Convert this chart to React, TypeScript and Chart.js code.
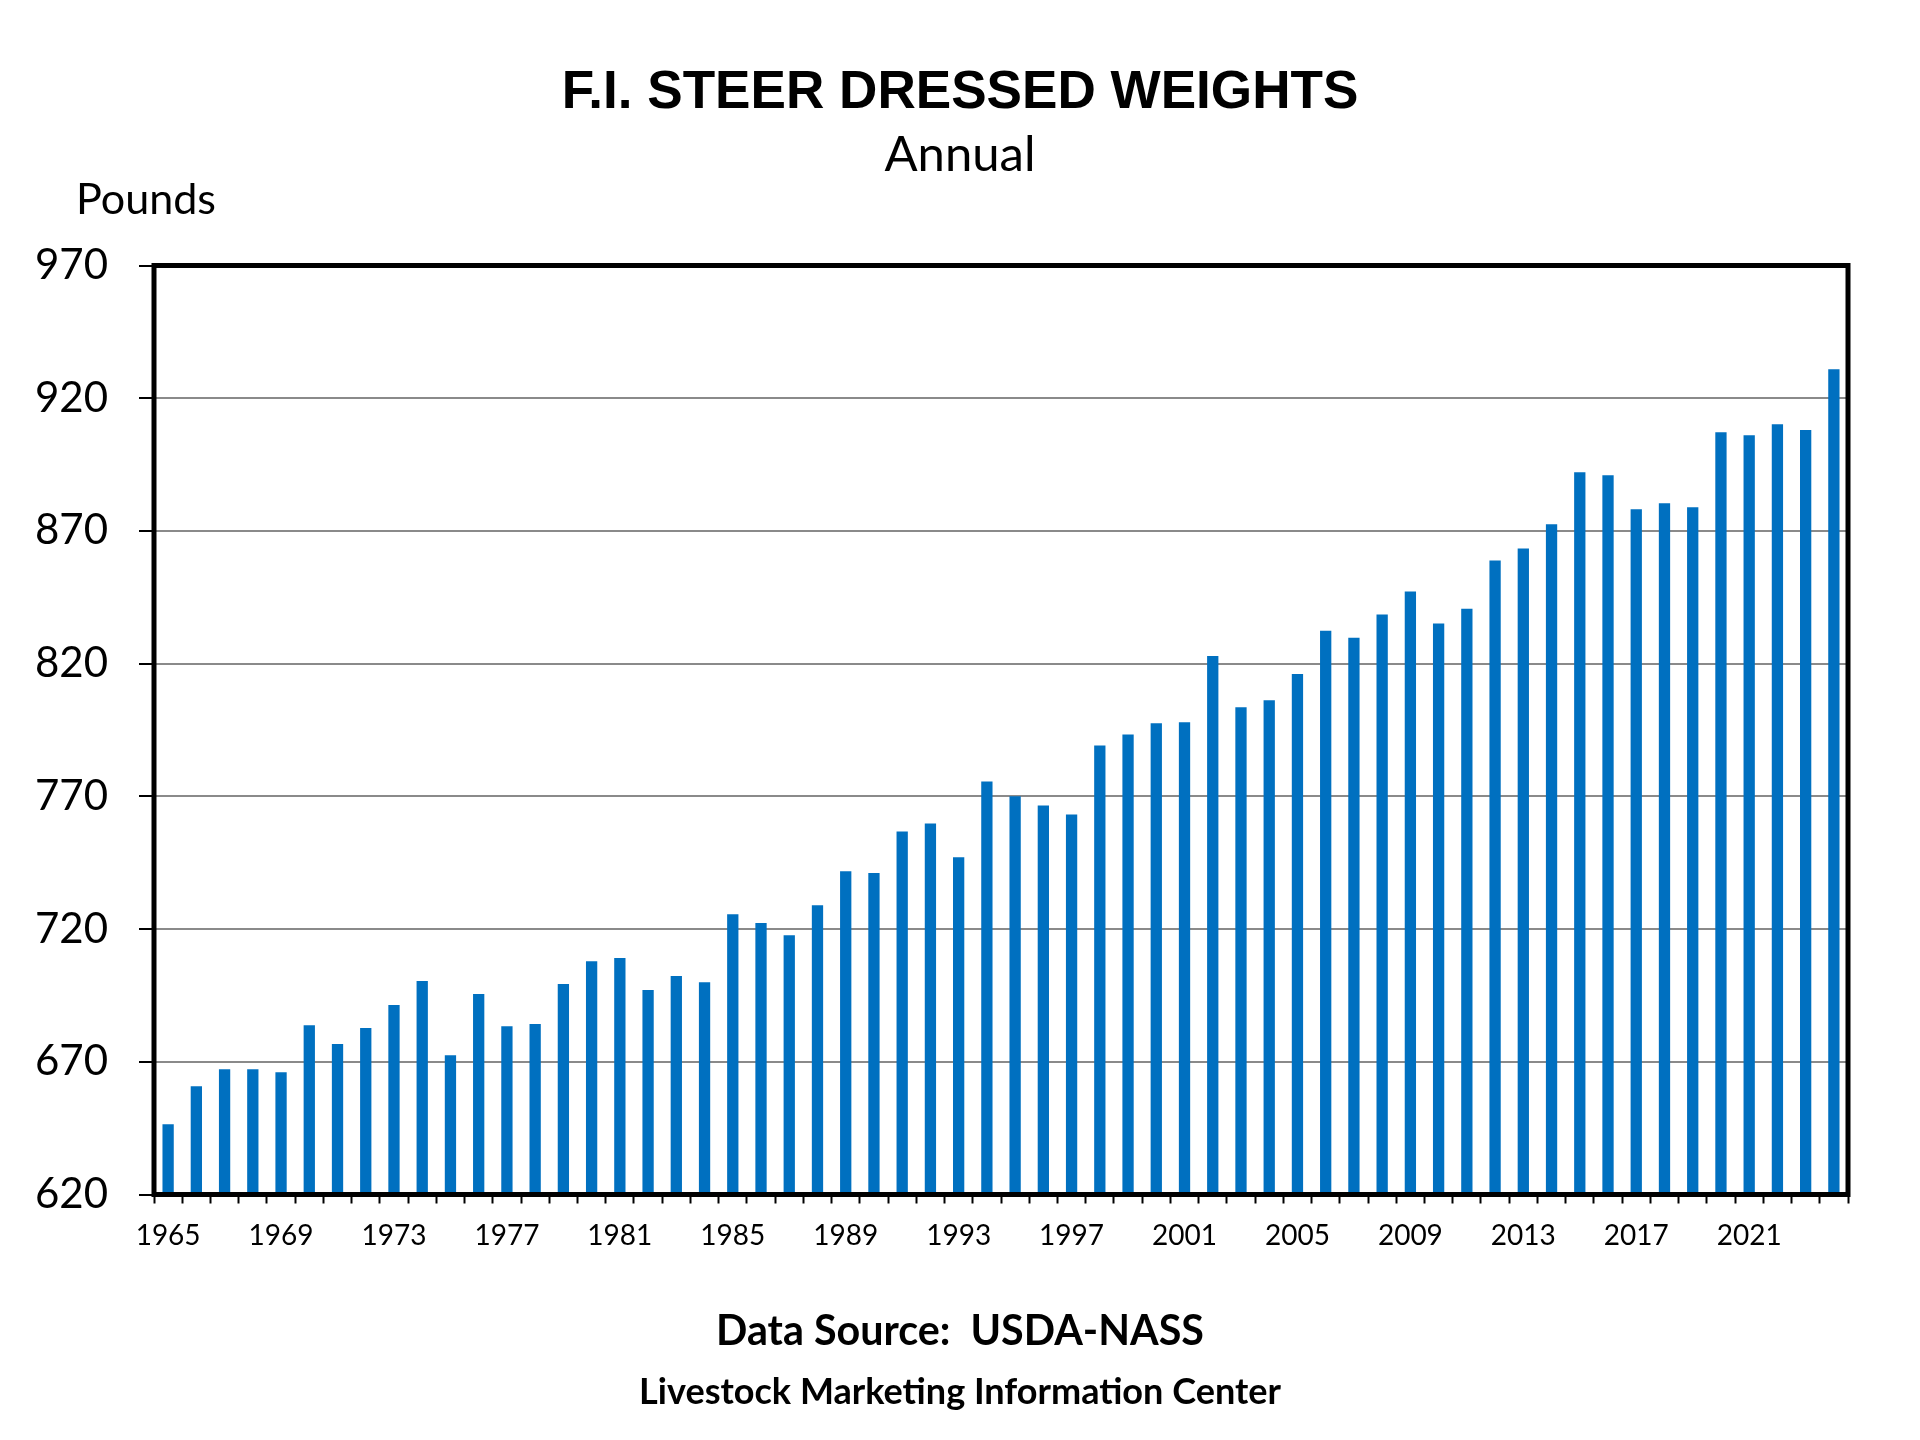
import React, { useEffect, useRef } from "react";
import { Chart, registerables } from "chart.js";

Chart.register(...registerables);

const YEARS = [
  "1965","1966","1967","1968","1969","1970","1971","1972","1973","1974",
  "1975","1976","1977","1978","1979","1980","1981","1982","1983","1984",
  "1985","1986","1987","1988","1989","1990","1991","1992","1993","1994",
  "1995","1996","1997","1998","1999","2000","2001","2002","2003","2004",
  "2005","2006","2007","2008","2009","2010","2011","2012","2013","2014",
  "2015","2016","2017","2018","2019","2020","2021","2022","2023","2024",
];

const WEIGHTS = [
  646.5, 660.8, 667.2, 667.2, 666.1, 683.8, 676.7, 682.7, 691.4, 700.4,
  672.5, 695.5, 683.4, 684.2, 699.3, 707.9, 709.1, 697.0, 702.3, 700.0,
  725.6, 722.3, 717.7, 729.0, 741.8, 741.1, 756.8, 759.8, 747.1, 775.6,
  770.0, 766.6, 763.2, 789.2, 793.3, 797.5, 797.9, 822.9, 803.6, 806.2,
  816.1, 832.4, 829.8, 838.5, 847.2, 835.1, 840.7, 858.9, 863.4, 872.5,
  892.1, 891.0, 878.2, 880.4, 878.9, 907.2, 906.0, 910.2, 908.0, 930.9,
];

const LABELED_YEARS = ["1965","1969","1973","1977","1981","1985","1989","1993","1997","2001","2005","2009","2013","2017","2021"];

const Y_MIN = 620;
const Y_MAX = 970;
const Y_STEP = 50;

const TITLE = "F.I. STEER DRESSED WEIGHTS";
const SUBTITLE = "Annual";
const Y_UNIT = "Pounds";
const SOURCE = "Data Source:  USDA-NASS";
const CREDIT = "Livestock Marketing Information Center";

function fitText(
  ctx: CanvasRenderingContext2D,
  text: string,
  weight: string,
  family: string,
  x: number,
  capCenterY: number,
  targetWidth: number,
  align: CanvasTextAlign,
  capRatio: number
) {
  ctx.font = `${weight} 100px ${family}`;
  const w = ctx.measureText(text).width;
  const size = (100 * targetWidth) / w;
  ctx.font = `${weight} ${size}px ${family}`;
  ctx.textAlign = align;
  ctx.textBaseline = "alphabetic";
  ctx.fillStyle = "#000";
  ctx.fillText(text, x, capCenterY + (capRatio * size) / 2);
}

const decor = {
  id: "decor",
  afterDraw(chart: any) {
    const { ctx, chartArea: a } = chart;
    ctx.save();
    ctx.strokeStyle = "#000";
    ctx.lineWidth = 5;
    ctx.strokeRect(a.left, a.top, a.right - a.left, a.bottom - a.top);
    fitText(ctx, TITLE, "bold", '"Liberation Sans", Arial, sans-serif', 960, 89, 797, "center", 0.716);
    fitText(ctx, SUBTITLE, "normal", "Lato, sans-serif", 960, 153, 151, "center", 0.72);
    fitText(ctx, Y_UNIT, "normal", "Lato, sans-serif", 76, 198, 140, "left", 0.72);
    fitText(ctx, SOURCE, "bold", "Lato, sans-serif", 960, 1330, 488, "center", 0.72);
    fitText(ctx, CREDIT, "bold", "Lato, sans-serif", 960, 1391, 642, "center", 0.72);
    ctx.restore();
  },
};

export default function App() {
  const canvasRef = useRef<HTMLCanvasElement | null>(null);

  useEffect(() => {
    document.body.style.margin = "0";
    const canvas = canvasRef.current;
    if (!canvas) return;
    const chart = new Chart(canvas, {
      type: "bar",
      data: {
        labels: YEARS,
        datasets: [
          {
            data: WEIGHTS,
            backgroundColor: "#0070C0",
            borderWidth: 0,
            barPercentage: 0.4,
            categoryPercentage: 1,
          },
        ],
      },
      options: {
        animation: false,
        responsive: true,
        maintainAspectRatio: false,
        devicePixelRatio: 1,
        layout: { padding: { top: 265.5, right: 72, left: 0, bottom: 0 } },
        plugins: {
          legend: { display: false },
          tooltip: { enabled: false },
          title: { display: false },
        },
        scales: {
          x: {
            afterFit: (scale: any) => {
              scale.height = 1440 - 1194.5;
            },
            border: { display: false },
            grid: {
              display: true,
              drawOnChartArea: false,
              drawTicks: true,
              tickLength: 9,
              tickColor: "#000",
              tickWidth: 2,
              offset: true,
            },
            ticks: {
              autoSkip: false,
              maxRotation: 0,
              minRotation: 0,
              padding: 16,
              color: "#000",
              font: { family: "Lato, sans-serif", size: 28 },
              callback: function (this: any, value: any) {
                const lab = YEARS[value as number];
                return LABELED_YEARS.includes(lab) ? lab : "";
              },
            },
          },
          y: {
            min: Y_MIN,
            max: Y_MAX,
            afterFit: (scale: any) => {
              scale.width = 154;
            },
            border: { display: false },
            grid: {
              color: "#8a8a8a",
              lineWidth: 2,
              drawTicks: true,
              tickLength: 15,
              tickColor: "#000",
              tickWidth: 2,
            },
            ticks: {
              stepSize: Y_STEP,
              padding: 31,
              color: "#000",
              font: { family: "Lato, sans-serif", size: 42 },
            },
          },
        },
      },
      plugins: [decor],
    });
    return () => chart.destroy();
  }, []);

  return (
    <div style={{ position: "relative", width: "1920px", height: "1440px", background: "#fff" }}>
      <canvas ref={canvasRef} />
    </div>
  );
}
